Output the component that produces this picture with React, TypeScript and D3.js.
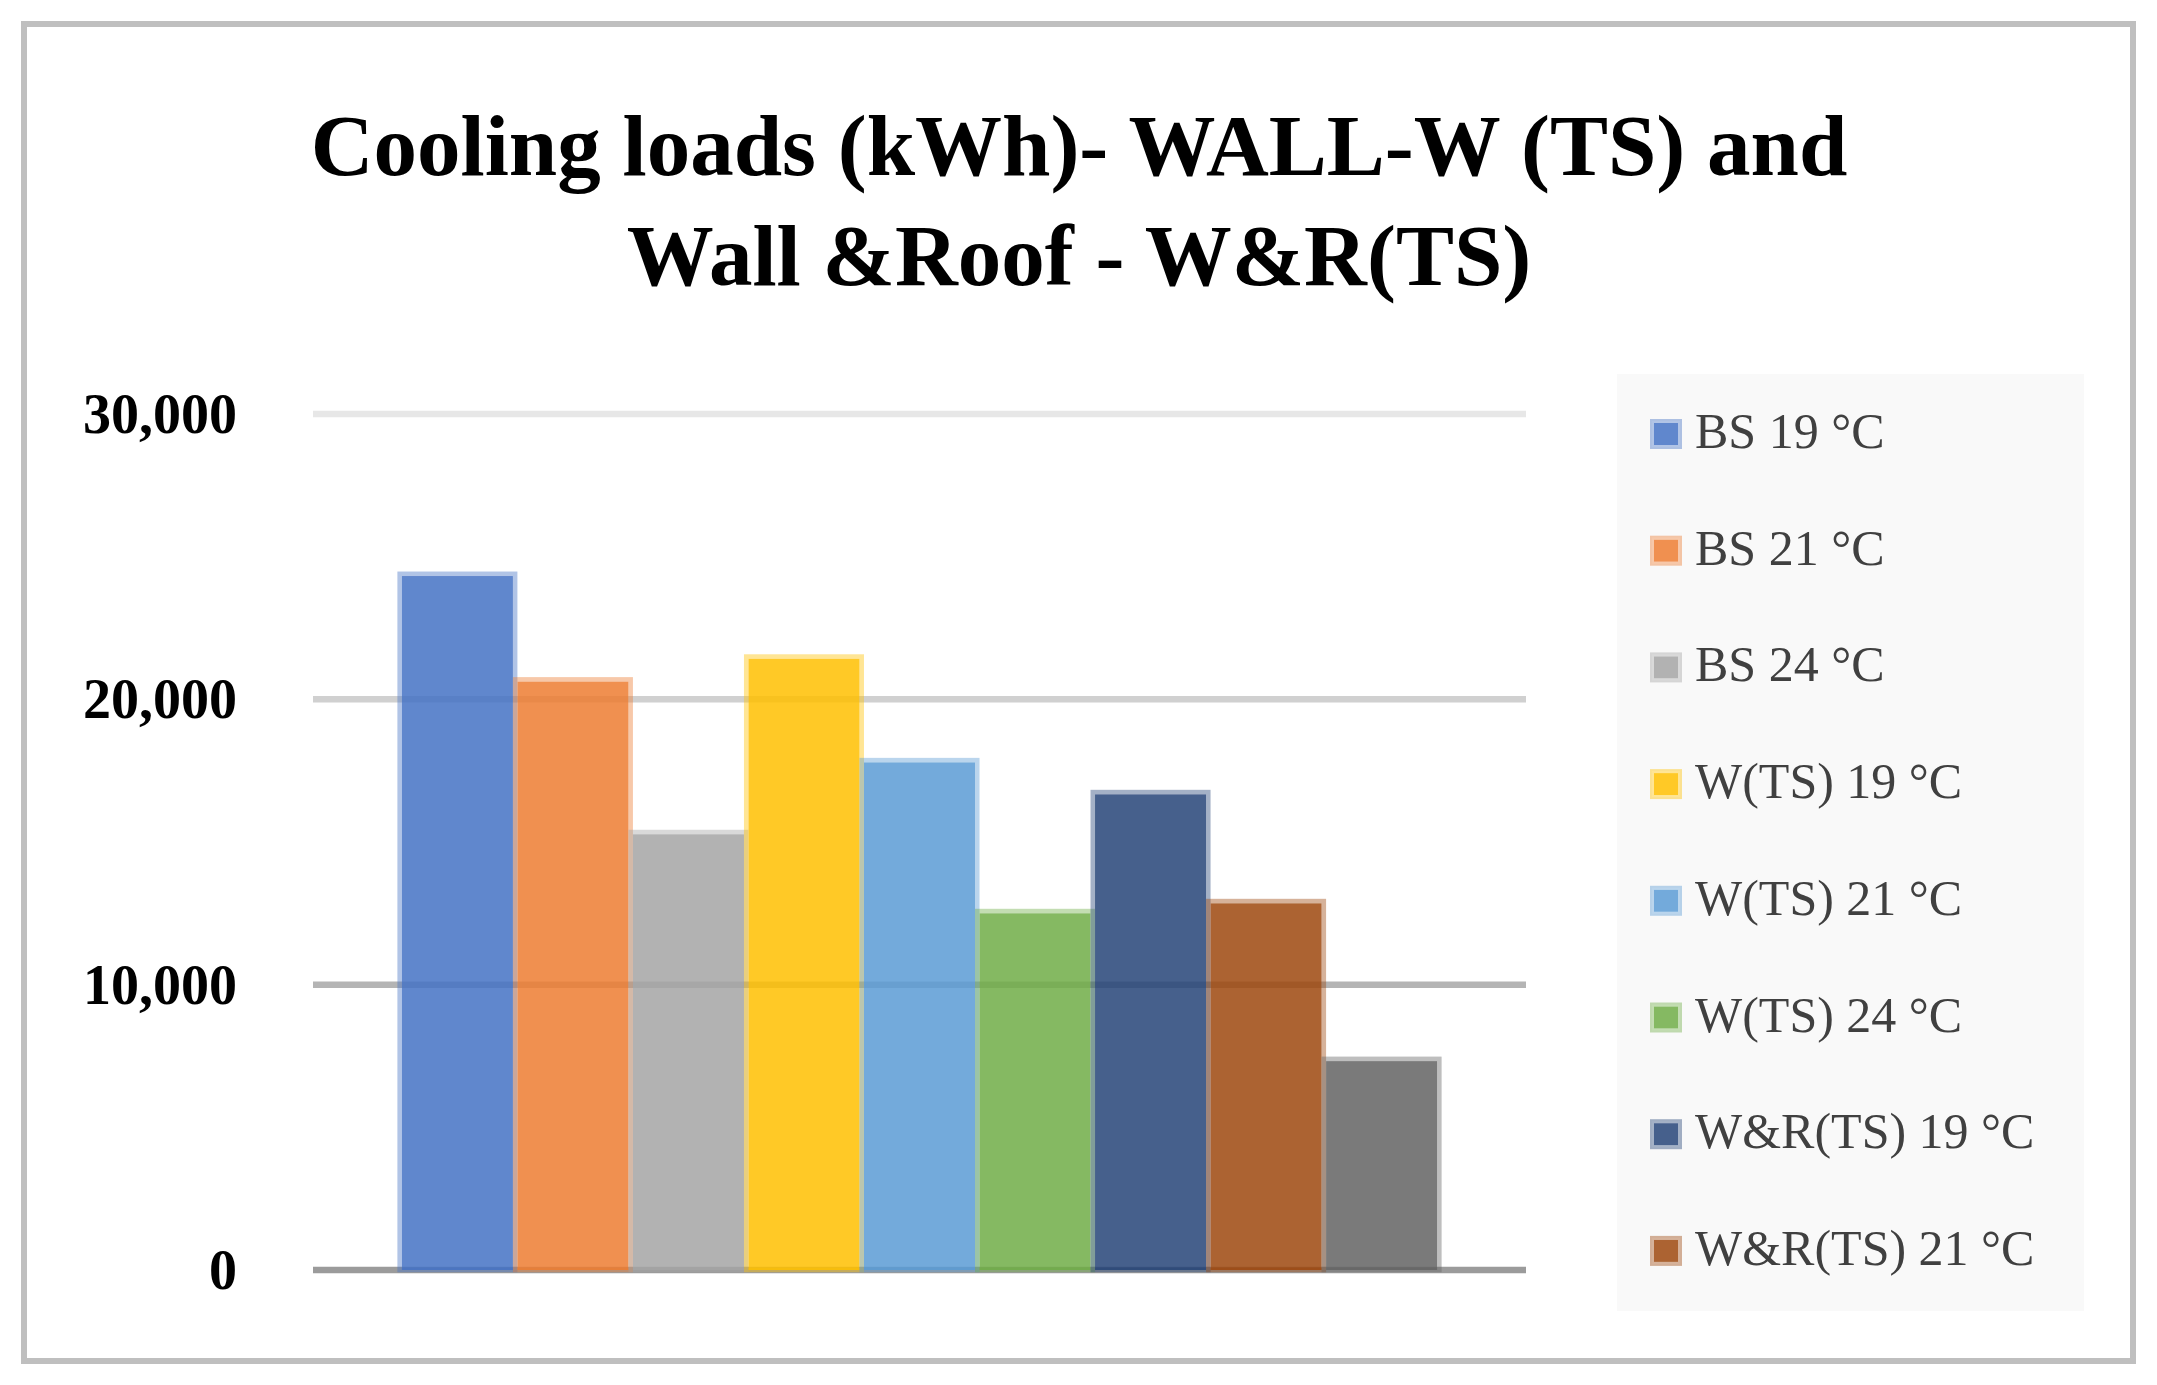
import React from "react";
import * as d3 from "d3";

// ---- data ----
const categories = ["Cooling loads (kWh)"];
const seriesNames = [
  "BS 19 °C",
  "BS 21 °C",
  "BS 24 °C",
  "W(TS) 19 °C",
  "W(TS) 21 °C",
  "W(TS) 24 °C",
  "W&R(TS) 19 °C",
  "W&R(TS) 21 °C",
  "W&R(TS) 24 °C",
];
const seriesValues = [24400, 20700, 15350, 21500, 17870, 12580, 16750, 12930, 7400];
const yTicks = [0, 10000, 20000, 30000];
const titleLines = ["Cooling loads (kWh)- WALL-W (TS) and", "Wall &Roof - W&R(TS)"];

// ---- styles ----
const seriesColors = [
  "#4472C4", "#ED7D31", "#A5A5A5", "#FFC000", "#5B9BD5",
  "#70AD47", "#264478", "#9E480E", "#636363",
];
const gridColors: Record<number, string> = {
  0: "#9B9B9B",
  10000: "#B4B4B4",
  20000: "#D0D0D0",
  30000: "#E7E7E7",
};

const W = 2157;
const H = 1385;
const plot = { left: 313, right: 1526, top: 414, bottom: 1270 };
const legendBox = { x: 1617, y: 374, w: 467, h: 937 };
const legendRow0 = 434;
const legendStep = 116.7;
const SERIF = "'Liberation Serif', 'Times New Roman', serif";

export default function App() {
  const y = d3.scaleLinear().domain([0, 30000]).range([plot.bottom, plot.top]);
  const cat = d3.scaleBand().domain(categories).range([plot.left, plot.right]);
  const x = d3
    .scaleBand()
    .domain(seriesNames)
    .range([cat(categories[0])!, cat(categories[0])! + cat.bandwidth()])
    .paddingInner(0)
    .paddingOuter(0.75);
  const fmt = d3.format(",");
  const sw = 4.5;

  const legendFits = Math.floor((legendBox.y + legendBox.h - legendRow0 + legendStep / 2) / legendStep);
  const legendItems = seriesNames.slice(0, legendFits);

  return (
    <svg
      width={W}
      height={H}
      viewBox={`0 0 ${W} ${H}`}
      style={{ position: "absolute", left: 0, top: 0, display: "block", background: "#fff" }}
    >
      <rect x={0} y={0} width={W} height={H} fill="#fff" />
      <rect x={24} y={24} width={2133 - 24} height={1361 - 24} fill="#fff" stroke="#BFBFBF" strokeWidth={6} />

      {titleLines.map((t, i) => (
        <text
          key={i}
          x={1079}
          y={175 + i * 110}
          textAnchor="middle"
          fontFamily={SERIF}
          fontWeight="bold"
          fontSize={87}
          fill="#000"
        >
          {t}
        </text>
      ))}

      {yTicks.map((t) => (
        <g key={t}>
          <line
            x1={plot.left}
            x2={plot.right}
            y1={y(t)}
            y2={y(t)}
            stroke={gridColors[t]}
            strokeWidth={6.5}
          />
          <text
            x={237}
            y={y(t) + 19}
            textAnchor="end"
            fontFamily={SERIF}
            fontWeight="bold"
            fontSize={56}
            fill="#000"
          >
            {fmt(t)}
          </text>
        </g>
      ))}

      {seriesNames.map((s, i) => {
        const x0 = x(s)!;
        const bw = x.bandwidth();
        const y0 = y(seriesValues[i]);
        const h = y(0) - y0;
        return (
          <g key={s}>
            <rect
              x={x0 + sw / 2}
              y={y0 + sw / 2}
              width={bw - sw}
              height={h - sw / 2}
              fill={seriesColors[i]}
              fillOpacity={0.85}
            />
            <rect
              x={x0}
              y={y0}
              width={bw}
              height={h}
              fill="none"
              stroke={seriesColors[i]}
              strokeOpacity={0.42}
              strokeWidth={sw}
            />
          </g>
        );
      })}

      <rect x={legendBox.x} y={legendBox.y} width={legendBox.w} height={legendBox.h} fill="#F9F9F9" />
      {legendItems.map((s, i) => {
        const ry = legendRow0 + i * legendStep;
        return (
          <g key={s}>
            <rect x={1652} y={ry - 13} width={28} height={26} fill="#fff" />
            <rect x={1654} y={ry - 11} width={24} height={22} fill={seriesColors[i]} fillOpacity={0.85} />
            <rect
              x={1652}
              y={ry - 13}
              width={28}
              height={26}
              fill="none"
              stroke={seriesColors[i]}
              strokeOpacity={0.42}
              strokeWidth={4}
            />
            <text x={1695} y={ry + 14} fontFamily={SERIF} fontSize={50} fill="#404040">
              {s}
            </text>
          </g>
        );
      })}
    </svg>
  );
}
